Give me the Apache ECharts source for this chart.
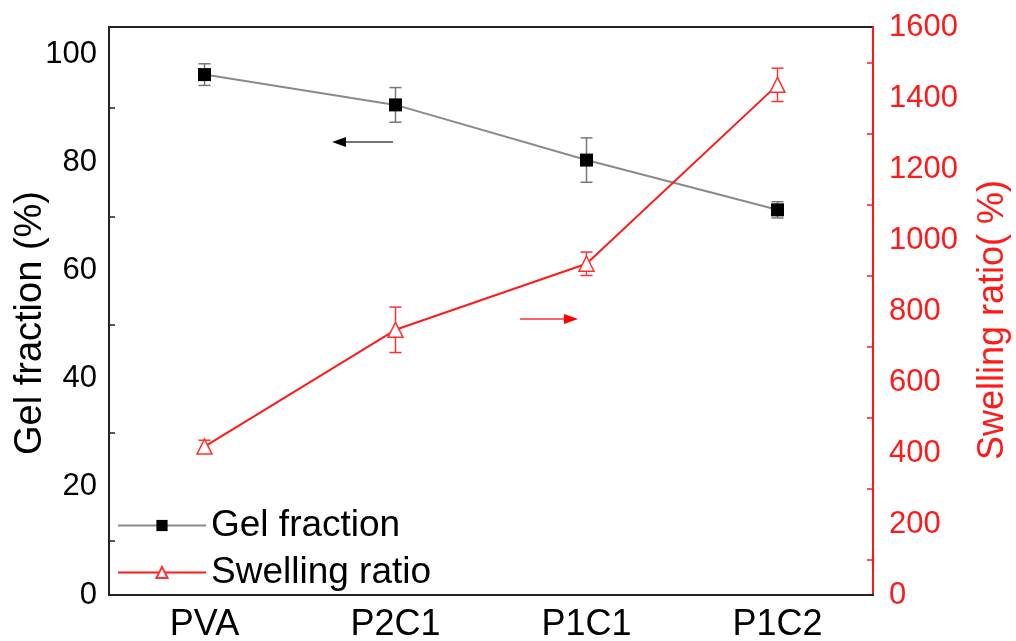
<!DOCTYPE html>
<html>
<head>
<meta charset="utf-8">
<script src="https://cdn.jsdelivr.net/npm/echarts@6/dist/echarts.min.js"></script>
<style>
html,body{margin:0;padding:0;background:#fff;}
#gelChart{width:1016px;height:641px;}
</style>
</head>
<body>
<div id="gelChart"></div>
<script>
// 样品
var categories = ['PVA', 'P2C1', 'P1C1', 'P1C2'];
// 凝胶分数 (%)
var gelData = [96.2, 90.6, 80.4, 71.2];
var gelErr = [2.0, 3.2, 4.1, 1.5];
// 溶胀率 (%)
var swellData = [418, 747, 933, 1437];
var swellErr = [18, 64, 33, 47];

var fontName = 'Liberation Sans, Arial, sans-serif';
var red = '#ff1a1a';

function errorBar(color, errArr, capW){
	return function(params, api){
		var i = api.value(0);
		var v = api.value(1);
		var e = errArr[i];
		var top = api.coord([i, v + e]);
		var bot = api.coord([i, v - e]);
		var style = {stroke: color, lineWidth: 1.5};
		return {
			type: 'group',
			children: [
				{type: 'line', shape: {x1: top[0], y1: top[1], x2: bot[0], y2: bot[1]}, style: style},
				{type: 'line', shape: {x1: top[0]-capW, y1: top[1], x2: top[0]+capW, y2: top[1]}, style: style},
				{type: 'line', shape: {x1: bot[0]-capW, y1: bot[1], x2: bot[0]+capW, y2: bot[1]}, style: style}
			]
		};
	};
}

var charts = echarts.init(document.getElementById('gelChart'));
var option = {
	animation: false,
	textStyle: {fontFamily: fontName},
	grid: {
		left: 109, right: 143, top: 27, bottom: 46,
		containLabel: false, outerBoundsMode: 'none',
		show: true, borderColor: '#222', borderWidth: 2
	},
	legend: {
		orient: 'vertical',
		left: 112, top: 502,
		itemWidth: 88, itemHeight: 14, itemGap: 10,
		textStyle: {fontSize: 37, color: '#000', fontFamily: fontName},
		data: ['Gel fraction', 'Swelling ratio']
	},
	xAxis: {
		type: 'category',
		data: categories,
		axisLine: {lineStyle: {color: '#222', width: 2}},
		axisTick: {alignWithLabel: true, inside: true, length: 10, lineStyle: {color: '#222', width: 1.5}},
		axisLabel: {fontSize: 36, color: '#000', margin: 12},
		splitLine: {show: false}
	},
	yAxis: [{
		type: 'value',
		min: 0, max: 105, interval: 20,
		name: 'Gel fraction (%)',
		nameLocation: 'middle', nameRotate: 90, nameGap: 59, nameMoveOverlap: false,
		nameTextStyle: {fontSize: 38, color: '#000', padding: [0, 24, 0, 0]},
		axisLine: {show: true, lineStyle: {color: '#222', width: 2}},
		axisTick: {inside: true, length: 12, lineStyle: {color: '#222', width: 2}},
		minorTick: {show: true, splitNumber: 2, length: 6, lineStyle: {color: '#222', width: 1.5}},
		axisLabel: {fontSize: 31, color: '#000', margin: 12, showMaxLabel: false},
		splitLine: {show: false}
	}, {
		type: 'value',
		position: 'right',
		min: 0, max: 1600, interval: 200,
		name: 'Swelling ratio( %)',
		nameLocation: 'middle', nameRotate: 90, nameGap: 102, nameMoveOverlap: false,
		nameTextStyle: {fontSize: 36, color: red, padding: [0, 18, 0, 0]},
		axisLine: {show: true, lineStyle: {color: red, width: 2}},
		axisTick: {inside: true, length: 12, lineStyle: {color: red, width: 2}},
		minorTick: {show: true, splitNumber: 2, length: 6, lineStyle: {color: red, width: 1.5}},
		axisLabel: {fontSize: 31, color: red, margin: 16, formatter: function(v){ return String(v); }},
		splitLine: {show: false}
	}],
	series: [{
		name: 'Gel fraction',
		type: 'line',
		yAxisIndex: 0,
		data: gelData,
		symbol: 'rect', symbolSize: 13,
		itemStyle: {color: '#000'},
		lineStyle: {color: '#8a8a8a', width: 2},
		z: 3
	}, {
		name: 'Swelling ratio',
		type: 'line',
		yAxisIndex: 1,
		data: swellData,
		symbol: 'triangle', symbolSize: 15,
		itemStyle: {color: '#fff', borderColor: '#ff3030', borderWidth: 1.5},
		lineStyle: {color: red, width: 2},
		z: 3
	}, {
		type: 'custom',
		yAxisIndex: 0,
		renderItem: errorBar('#777', gelErr, 6),
		data: gelData.map(function(v, i){ return [i, v]; }),
		z: 2
	}, {
		type: 'custom',
		yAxisIndex: 1,
		renderItem: errorBar('#ff3030', swellErr, 6),
		data: swellData.map(function(v, i){ return [i, v]; }),
		z: 2
	}],
	graphic: [{
		type: 'group',
		children: [
			{type: 'line', shape: {x1: 340, y1: 142, x2: 393, y2: 142}, style: {stroke: '#444', lineWidth: 1.5}},
			{type: 'polygon', shape: {points: [[332, 142], [346, 137], [346, 147]]}, style: {fill: '#000'}}
		]
	}, {
		type: 'group',
		children: [
			{type: 'line', shape: {x1: 520, y1: 319, x2: 570, y2: 319}, style: {stroke: '#ff3030', lineWidth: 1.5}},
			{type: 'polygon', shape: {points: [[578, 319], [564, 314], [564, 324]]}, style: {fill: '#ff0000'}}
		]
	}]
};
charts.setOption(option);
</script>
</body>
</html>
